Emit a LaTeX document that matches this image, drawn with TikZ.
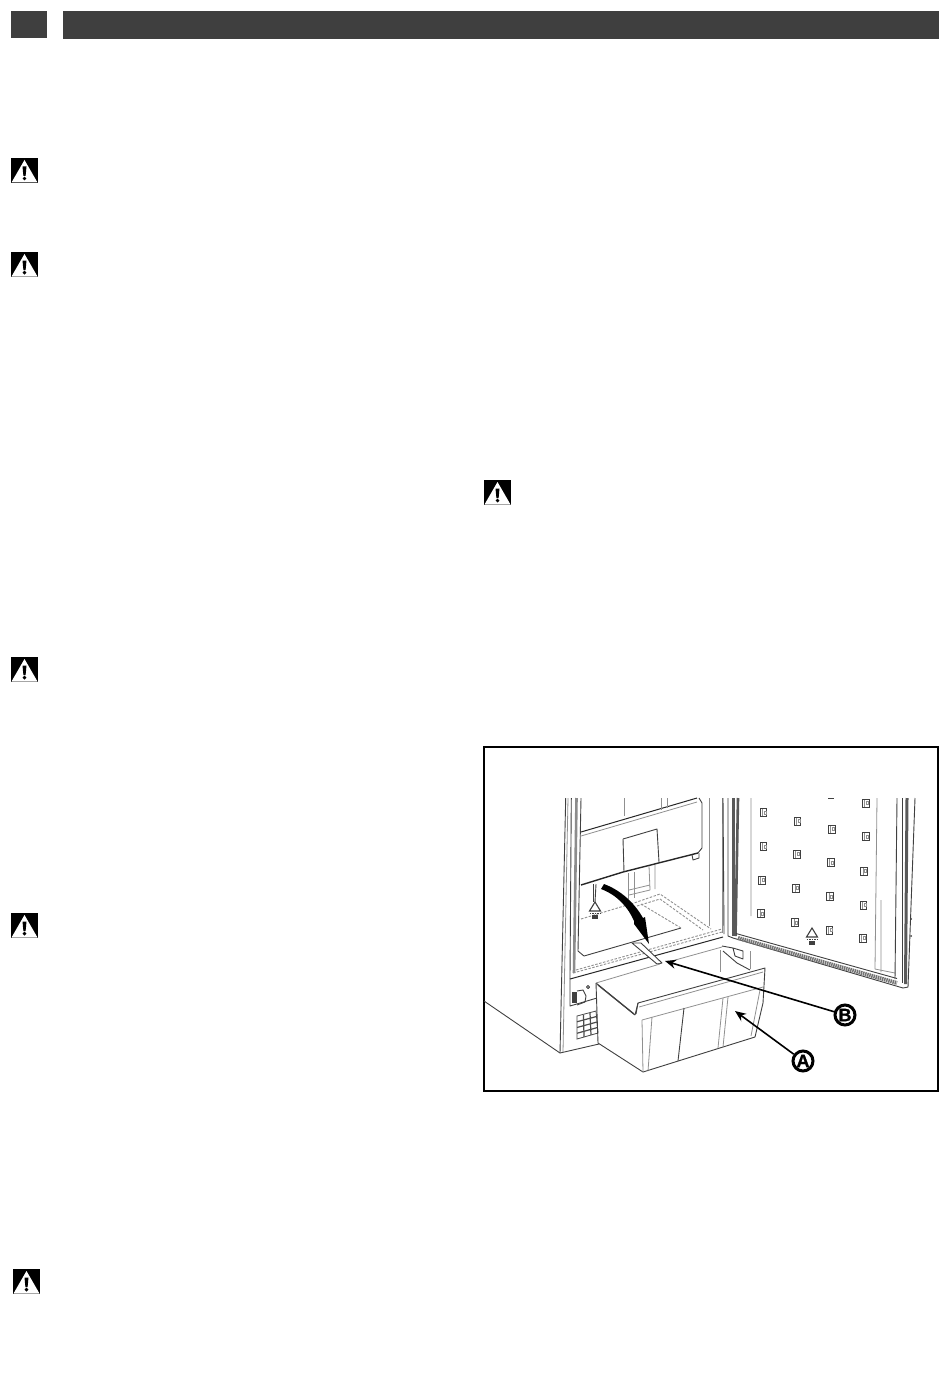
\documentclass[tikz,border=0pt]{standalone}
\usepackage{fontspec}
\setmainfont{Liberation Sans}
\newfontfamily\calloutfont[BoldFeatures={FakeBold=1.2}]{Liberation Sans}
\usetikzlibrary{arrows.meta,calc}
\definecolor{bar}{HTML}{3F3F3F}
\definecolor{ln}{HTML}{404040}
\definecolor{lt}{HTML}{909090}
\tikzset{
  headerbar/.style={fill=bar,draw=none},
  ink/.style={draw=ln,line width=.9pt,line join=round},
  thin ink/.style={draw=lt,line width=.8pt},
  heavy/.style={draw=black!85,line width=1.4pt},
  seal/.style={draw=black!65,line width=2.6pt},
  dash ink/.style={draw=lt,line width=.9pt,dash pattern=on 2.5pt off 1.5pt},
  callout/.style={circle,draw=black,line width=3pt,minimum size=20pt,inner sep=0pt,font=\calloutfont\bfseries\fontsize{18}{18}\selectfont,fill=white},
  pointer/.style={draw=black,line width=1.6pt,-{Stealth[length=11pt,width=9pt]}},
  warn/.pic={
    \fill[black] (0,0) rectangle (27,25);
    \fill[white] (13.5,2) -- (26.5,24.5) -- (.5,24.5) -- cycle;
    \fill[black] (11.5,8.5) -- (15.5,8.5) -- (14.6,18) -- (12.4,18) -- cycle;
    \fill[black] (13.5,20.6) circle (1.9);
  },
  clip/.pic={
    \draw[draw=ln,line width=1pt] (-3.3,-4) rectangle (3.3,4);
    \draw[draw=lt,line width=1pt] (-1,-3.5) -- (-1,3.5) (.8,-1.5) rectangle (2.8,1.5);
  },
  shelfmark/.pic={
    \draw[draw=ln,line width=1.1pt] (0,-8) -- (-5.5,1) -- (5.5,1) -- cycle;
    \draw[draw=ln,line width=1.1pt,dash pattern=on 1.5pt off 1pt] (-5.5,3.5) -- (5.5,3.5);
    \fill[ln] (-3,5) rectangle (3,9);
  }
}
\begin{document}
\begin{tikzpicture}[x=1pt,y=-1pt]
\useasboundingbox[fill=white] (0,0) rectangle (950,1388);
% header
\fill[headerbar] (11,11) rectangle (47,38);
\fill[headerbar] (63,11) rectangle (939,39);
% warning icons
\pic at (11,158) {warn};
\pic at (11,252) {warn};
\pic at (484,480) {warn};
\pic at (11,657) {warn};
\pic at (11,913) {warn};
\pic at (13,1269) {warn};
% frame
\draw[draw=black,line width=2pt] (484,747) rectangle (938,1091);
% floor and cabinet shell
\draw[ink] (484,1001) -- (560,1053) -- (599,1044);
\draw[ink] (565.7,798) -- (560,1053);
\draw[thin ink] (563,1052) -- (568,798);
\draw[ink] (571.3,798) -- (570,976) -- (570,1006) -- (597,998);
\draw[seal,draw=black!45] (576.5,798) -- (574,973);
\draw[ink] (581,798) -- (578,951) -- (584,956) -- (681,928);
% upper drawer panel
\draw[heavy,line width=1pt] (581,832) -- (697,798);
\draw[thin ink] (581,836) -- (697,802);
\draw[ink] (699,798) -- (702,803) -- (702,848) -- (698,853);
\draw[heavy] (698,853) -- (623,872) -- (581,885);
\draw[ink] (623,839) -- (657,829) -- (659,862);
\draw[ink] (623,839) -- (624,872);
\draw[ink] (692,855) -- (693,860) -- (699,858) -- (699,853);
\draw[thin ink] (624,798) -- (624,816) (661,798) -- (661,810) (667,798) -- (667,808);
\draw[thin ink] (709,798) -- (709,926) (722,798) -- (722,933);
% inner compartment
\draw[thin ink] (628,873) -- (628,899) (634,872) -- (634,898);
\draw[thin ink] (649,866) -- (650,890) (655,865) -- (655,889);
\draw[thin ink] (629,890) -- (650,885) (629,895) -- (650,890);
\draw[dash ink] (581,919) -- (634,903) -- (660,894) -- (711,929);
\draw[dash ink] (637,906) -- (660,899) -- (703,930);
\draw[dash ink] (641,904) -- (681,928);
\draw[dash ink] (573,973) -- (722,932);
\draw[dash ink] (576,970) -- (722,929);
\draw[heavy,line width=1pt] (570,979) -- (723,937);
% handle
\filldraw[ink,fill=white] (632,943) -- (641,943) -- (662,963) -- (657,964) -- cycle;
\pic at (595,910) {shelfmark};
\draw[ink] (593,884) -- (593,902);
\draw[ink] (596,884) -- (595,902);
% base, socket, vent
\fill[ln] (572,992) rectangle (577,1003);
\draw[ink] (577,991) -- (583,990) -- (586,996) -- (585,1002) -- (577,1005);
\draw[ink] (588,987) circle (1.6);
\draw[draw=black!70,line width=.8pt] (577,1016) -- (596,1011) -- (598,1033) -- (577,1039) -- cycle;
\foreach \t in {.25,.5,.75}{
  \draw[draw=black!70,line width=1.2pt] ($(577,1016)!\t!(577,1039)$) -- ($(596,1011)!\t!(598,1033)$);
}
\draw[draw=black!70,line width=1.2pt] (583.5,1015) -- (584,1037) (590,1013) -- (591,1035);
% door
\draw[ink] (723,798) -- (724,934);
\draw[ink] (728,798) -- (728,936) -- (733,938);
\draw[seal] (733.5,798) -- (733.5,936);
\draw[seal] (738,798) -- (735.5,936);
\draw[ink] (733,938) -- (903,988) -- (908,987) -- (915,798);
\draw[draw=black!55,line width=4pt,dash pattern=on 1.5pt off .7pt] (738,938) -- (897,983);
\draw[ink] (736,933.5) -- (897,978.5);
\draw[thin ink] (751,798) -- (751,916) (877,798) -- (875,969) (881,900) -- (881,972);
\draw[thin ink] (875,969) -- (895,973);
\draw[ink] (897,798) -- (895,979);
\draw[ink] (902,798) -- (902,983);
\draw[seal,line width=3pt] (907,798) -- (905.5,984);
\fill[ln] (911,919) circle (1) (911,936) circle (1);
% door retainers
\foreach \p in {(763.3,812.7),(797.3,821),(831.7,829.3),(865.7,803.3),(865.7,836.7),(763.3,846.7),(796.7,854.3),(830.7,862.7),(864,871),(761.7,880.3),(796,888.3),(830,896.7),(863.3,905),(761,913.7),(795,922.7),(829.3,930.3),(862.7,938.3)}{
  \pic at \p {clip};
}
\draw[ink] (828,798.5) -- (834,798.5);
\pic at (812,936) {shelfmark};
% hinge
\draw[thin ink] (720,950) -- (720,972) (750,951) -- (750,969);
\draw[ink] (722,946) -- (733,948) -- (743,951) -- (743,959) -- (735,956) -- (733,948);
\draw[ink] (723,951) -- (737,963) -- (750,970);
% bin
\draw[ink] (596,983) -- (635,1015);
\draw[draw=ln,line width=1.3pt] (598,985) -- (634,1014);
\draw[ink] (596,983) -- (598,1043) -- (643,1072) -- (755,1037) -- (763,1003) -- (765,968) -- (638,1003) -- (635,1015);
\draw[thin ink] (596,983) -- (660,964) (668,962) -- (722,947);
\draw[thin ink] (639,1007) -- (763,972);
\draw[ink] (638,1003) -- (636,1014);
\draw[thin ink] (642,1020) -- (763,987);
\draw[thin ink] (642,1020) -- (643,1072);
\draw[thin ink] (652,1017) -- (648,1071);
\draw[ink] (684,1008) -- (678,1061);
\draw[thin ink] (723,998) -- (718,1048);
\draw[thin ink] (728,997) -- (723,1047);
\draw[thin ink] (760,990) -- (751,1036);
% curved black arrow
\fill[black] (601,889) .. controls (617,895) and (628,907) .. (634,921)
  -- (634,924) -- (649,944) -- (645,917) -- (643,918)
  .. controls (634,902) and (620,890) .. (604,884) -- cycle;
% callouts
\node[callout] (labelB) at (845,1015) {B};
\node[callout] (labelA) at (803,1061) {A};
\coordinate (tipB) at (665,961);
\coordinate (tipA) at (735,1011);
\draw[pointer] (labelB) -- (tipB);
\draw[pointer] (labelA) -- (tipA);
\end{tikzpicture}
\end{document}
